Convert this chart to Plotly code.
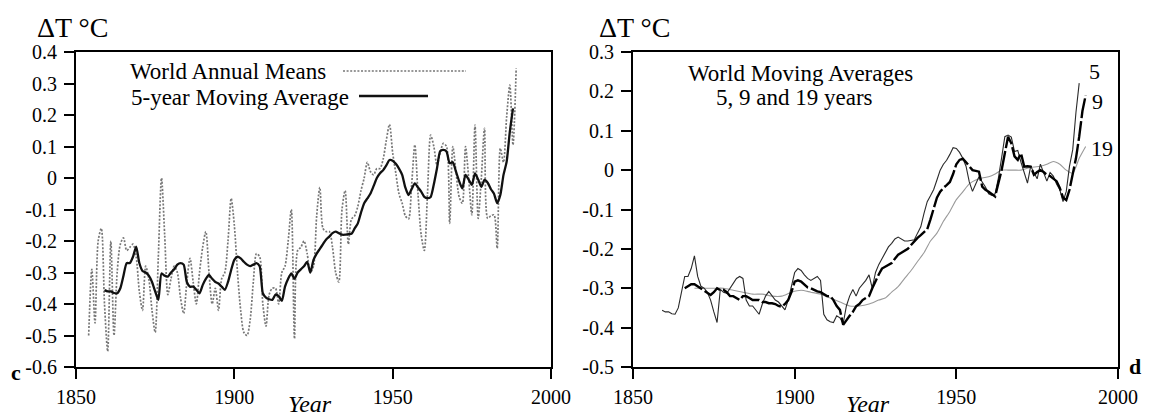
import plotly.graph_objects as go

W, H = 1149, 417
FONT = "Liberation Serif, Times New Roman, serif"

# ---------------- data ----------------
annual_years = list(range(1854, 1990))
annual_means = [
    -0.50, -0.29, -0.46, -0.20, -0.16, -0.40,                               # 1854-1859
    -0.55, -0.20, -0.50, -0.30, -0.21, -0.19, -0.23, -0.22, -0.21, -0.25,   # 1860s
    -0.36, -0.42, -0.28, -0.32, -0.42, -0.49, -0.25, 0.00, -0.18, -0.37,    # 1870s
    -0.32, -0.28, -0.30, -0.38, -0.43, -0.33, -0.255, -0.33, -0.40, -0.30,  # 1880s
    -0.22, -0.17, -0.30, -0.40, -0.35, -0.42, -0.32, -0.30, -0.20, -0.065, # 1890s
    -0.15, -0.30, -0.42, -0.49, -0.50, -0.45, -0.33, -0.24, -0.25, -0.40,   # 1900s
    -0.47, -0.37, -0.35, -0.35, -0.40, -0.30, -0.28, -0.20, -0.10, -0.51,   # 1910s
    -0.23, -0.22, -0.20, -0.24, -0.30, -0.28, -0.12, -0.03, -0.16, -0.17,   # 1920s
    -0.17, -0.22, -0.30, -0.33, -0.10, -0.04, -0.21, -0.13, -0.12, -0.09,   # 1930s
    -0.04, 0.00, 0.05, 0.02, 0.01, 0.03, 0.03, 0.06, 0.12, 0.17,            # 1940s
    0.08, 0.015, -0.05, -0.08, -0.12, -0.13, -0.02, 0.105, -0.05, -0.18,    # 1950s
    -0.23, -0.05, 0.136, 0.10, 0.04, 0.08, 0.11, 0.10, -0.144, 0.10,        # 1960s
    0.02, -0.06, -0.08, 0.10, 0.00, -0.117, 0.168, -0.128, 0.00, 0.158,     # 1970s
    -0.128, -0.12, -0.117, -0.223, 0.094, 0.05, 0.195, 0.295, 0.105, 0.348, # 1980s
]

ma5_years = list(range(1859, 1989))
ma5_values = [
    -0.356,                                                                   # 1859
    -0.36, -0.36, -0.365, -0.366, -0.35, -0.31, -0.27, -0.27, -0.25, -0.218,  # 1860s
    -0.27, -0.295, -0.30, -0.31, -0.33, -0.36, -0.387, -0.303, -0.31, -0.313, # 1870s
    -0.30, -0.29, -0.275, -0.27, -0.275, -0.33, -0.345, -0.345, -0.355, -0.366,
    -0.34, -0.32, -0.308, -0.32, -0.33, -0.335, -0.345, -0.355, -0.33, -0.292,
    -0.26, -0.25, -0.255, -0.266, -0.275, -0.28, -0.275, -0.27, -0.28, -0.366,
    -0.38, -0.385, -0.387, -0.37, -0.375, -0.39, -0.345, -0.32, -0.303, -0.32,
    -0.30, -0.29, -0.28, -0.266, -0.30, -0.26, -0.24, -0.225, -0.21, -0.195,
    -0.186, -0.175, -0.17, -0.175, -0.18, -0.18, -0.178, -0.177, -0.16, -0.144,
    -0.11, -0.08, -0.065, -0.049, -0.025, 0.00, 0.015, 0.025, 0.04, 0.057,
    0.055, 0.045, 0.03, 0.01, -0.03, -0.054, -0.035, -0.017, -0.03, -0.043,
    -0.06, -0.064, -0.06, -0.02, 0.031, 0.085, 0.089, 0.084, 0.047, 0.05,
    0.02, -0.01, -0.033, 0.01, -0.005, -0.022, 0.015, -0.005, -0.028, -0.006,
    -0.015, -0.035, -0.05, -0.08, -0.054, 0.01, 0.052, 0.147, 0.221,          # 1980-1988
]

ma9_years = list(range(1866, 1991))
ma9_values = [
    -0.30, -0.295, -0.29, -0.29,                                              # 1866-1869
    -0.295, -0.30, -0.305, -0.31, -0.317, -0.31, -0.30, -0.305, -0.304, -0.31,
    -0.32, -0.32, -0.325, -0.33, -0.32, -0.32, -0.325, -0.33, -0.33, -0.33,
    -0.335, -0.335, -0.338, -0.338, -0.34, -0.345, -0.347, -0.34, -0.33, -0.31,
    -0.283, -0.28, -0.283, -0.29, -0.298, -0.30, -0.305, -0.308, -0.31, -0.315,
    -0.32, -0.32, -0.33, -0.345, -0.355, -0.393, -0.38, -0.37, -0.36, -0.346,
    -0.34, -0.33, -0.325, -0.32, -0.30, -0.28, -0.265, -0.25, -0.245, -0.24,
    -0.236, -0.225, -0.215, -0.21, -0.205, -0.20, -0.19, -0.18, -0.172, -0.165,
    -0.158, -0.15, -0.125, -0.10, -0.07, -0.055, -0.045, -0.038, -0.03, -0.01,
    0.015, 0.026, 0.029, 0.02, 0.01, 0.00, -0.002, -0.004, -0.042, -0.05,
    -0.055, -0.062, -0.067, -0.033, 0.00, 0.043, 0.085, 0.068, 0.035, 0.026,
    0.043, 0.009, 0.01, 0.009, -0.012, -0.005, 0.00, -0.005, -0.012, -0.015,
    -0.021, -0.028, -0.045, -0.07, -0.076, -0.05, -0.01, 0.03, 0.085, 0.15, 0.19,
]

ma19_years = [1869, 1872, 1875, 1878, 1881, 1884, 1887, 1890, 1893, 1896, 1899,
              1902, 1905, 1908, 1911, 1914, 1917, 1920, 1923, 1926, 1928, 1930,
              1932, 1934, 1936, 1938, 1940, 1942, 1944, 1946, 1948, 1950, 1952,
              1954, 1956, 1958, 1960, 1962, 1964, 1966, 1968, 1970, 1972, 1974,
              1976, 1978, 1980, 1982, 1984, 1986, 1988, 1990]
ma19_values = [-0.30, -0.30, -0.30, -0.30, -0.305, -0.31, -0.315, -0.315, -0.32, -0.32, -0.31,
               -0.305, -0.31, -0.315, -0.325, -0.335, -0.345, -0.345, -0.34, -0.33, -0.325, -0.31,
               -0.296, -0.275, -0.255, -0.232, -0.21, -0.18, -0.16, -0.13, -0.105, -0.075, -0.055,
               -0.035, -0.025, -0.02, -0.017, -0.01, 0.00, 0.00, 0.00, 0.00, 0.005, 0.008,
               0.01, 0.015, 0.022, 0.015, 0.00, -0.008, 0.03, 0.06]

x_ticks = [1850, 1900, 1950, 2000]
x_tick_labels = ["1850", "1900", "1950", "2000"]
left_y_ticks = [0.4, 0.3, 0.2, 0.1, 0.0, -0.1, -0.2, -0.3, -0.4, -0.5, -0.6]
left_y_labels = ["0.4", "0.3", "0.2", "0.1", "0", "-0.1", "-0.2", "-0.3", "-0.4", "-0.5", "-0.6"]
right_y_ticks = [0.3, 0.2, 0.1, 0.0, -0.1, -0.2, -0.3, -0.4, -0.5]
right_y_labels = ["0.3", "0.2", "0.1", "0", "-0.1", "-0.2", "-0.3", "-0.4", "-0.5"]

# ---------------- helpers (pixel -> paper) ----------------
def px(x):
    return x / W


def py(y):
    return 1 - y / H


DOT = "2px,1.6px"
fig = go.Figure()

# left panel
fig.add_trace(go.Scatter(x=annual_years, y=annual_means, mode="lines",
                         line=dict(color="#777777", width=1.7, dash=DOT, shape="spline", smoothing=0.8),
                         xaxis="x", yaxis="y", hoverinfo="skip", showlegend=False))
fig.add_trace(go.Scatter(x=ma5_years, y=ma5_values, mode="lines",
                         line=dict(color="#111111", width=2.3, shape="spline", smoothing=0.6),
                         xaxis="x", yaxis="y", hoverinfo="skip", showlegend=False))

# right panel
fig.add_trace(go.Scatter(x=ma19_years, y=ma19_values, mode="lines",
                         line=dict(color="#9a9a9a", width=1.1, shape="spline", smoothing=0.6),
                         xaxis="x2", yaxis="y2", hoverinfo="skip", showlegend=False))
fig.add_trace(go.Scatter(x=ma5_years, y=ma5_values, mode="lines",
                         line=dict(color="#2a2a2a", width=1.1),
                         xaxis="x2", yaxis="y2", hoverinfo="skip", showlegend=False))
fig.add_trace(go.Scatter(x=ma9_years, y=ma9_values, mode="lines",
                         line=dict(color="#000000", width=2.4, dash="20px,3px"),
                         xaxis="x2", yaxis="y2", hoverinfo="skip", showlegend=False))

axis_common = dict(showline=True, linecolor="black", linewidth=2, mirror=True,
                   ticks="outside", ticklen=10, tickwidth=2, tickcolor="black",
                   showgrid=False, zeroline=False, fixedrange=True, automargin=False,
                   tickfont=dict(family=FONT, size=20, color="black"))

fig.update_layout(
    width=W, height=H,
    margin=dict(l=0, r=0, t=0, b=0, autoexpand=False),
    paper_bgcolor="white", plot_bgcolor="white",
    showlegend=False,
    xaxis=dict(domain=[px(76), px(551)], range=[1850, 2000], tickvals=x_ticks,
               ticktext=x_tick_labels, anchor="y", ticklabelstandoff=1, **axis_common),
    yaxis=dict(domain=[py(367), py(52)], range=[-0.6, 0.4], tickvals=left_y_ticks,
               ticktext=left_y_labels, anchor="x", ticklabelstandoff=3, **axis_common),
    xaxis2=dict(domain=[px(633), px(1118)], range=[1850, 2000], tickvals=x_ticks,
                ticktext=x_tick_labels, anchor="y2", ticklabelstandoff=1, **axis_common),
    yaxis2=dict(domain=[py(367), py(52)], range=[-0.5, 0.3], tickvals=right_y_ticks,
                ticktext=right_y_labels, anchor="x2", ticklabelstandoff=3, **axis_common),
)


def note(text, x, y, size, xanchor="center", color="black"):
    fig.add_annotation(text=text, x=px(x), y=py(y), xref="paper", yref="paper",
                       xanchor=xanchor, yanchor="middle", showarrow=False,
                       font=dict(family=FONT, size=size, color=color))


# titles
note("ΔT °C", 35, 27, 28, xanchor="left")
note("ΔT °C", 597, 27, 28, xanchor="left")

# left legend
note("World Annual Means", 328, 71, 23, xanchor="right")
note("5-year Moving Average", 351, 97, 23, xanchor="right")
fig.add_shape(type="line", xref="paper", yref="paper", x0=px(343), x1=px(466), y0=py(71), y1=py(71),
              line=dict(color="#777777", width=1.7, dash=DOT))
fig.add_shape(type="line", xref="paper", yref="paper", x0=px(359), x1=px(428), y0=py(96), y1=py(96),
              line=dict(color="#111111", width=2.3))

# right legend text
note("World Moving Averages", 800, 73, 23)
note("5, 9 and 19 years", 794, 97, 23)
note("5", 1094, 71, 22)
note("9", 1097, 101, 22)
note("19", 1102, 148, 22)

# axis titles and panel letters
note("<i>Year</i>", 310, 404, 24)
note("<i>Year</i>", 868, 404, 24)
note("<b>c</b>", 16, 372, 22)
note("<b>d</b>", 1135, 366, 22)

fig.write_html("out.html")
